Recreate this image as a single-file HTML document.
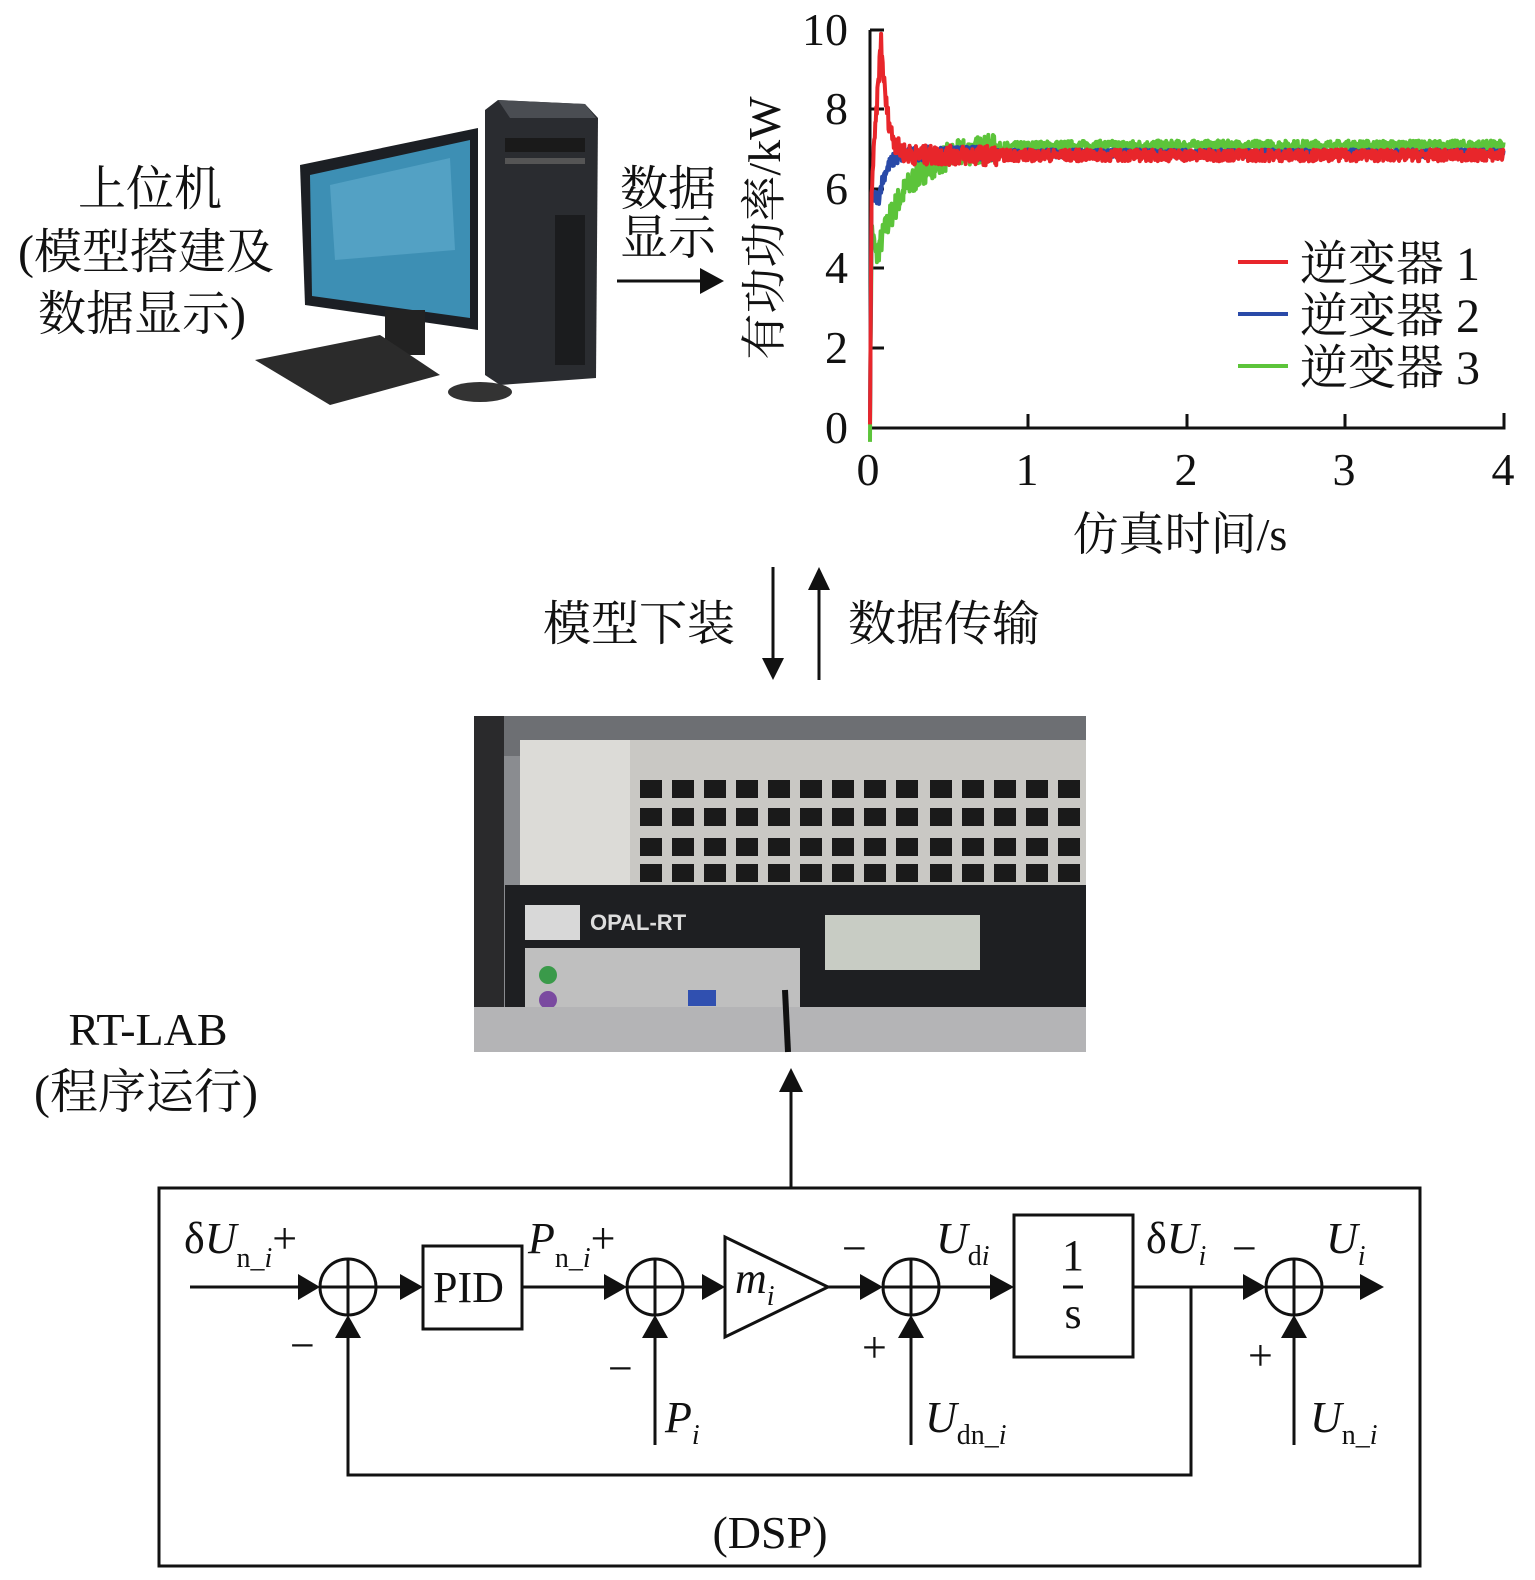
<!DOCTYPE html>
<html><head><meta charset="utf-8"><style>
html,body{margin:0;padding:0;background:#fff;overflow:hidden;width:1535px;height:1580px}
svg{display:block;position:absolute;left:0;top:0}
.t{font-family:"Liberation Serif","Noto Serif CJK SC",serif;fill:#111}
</style></head><body>
<svg id="s" width="1535" height="1580" viewBox="0 0 1535 1580" xmlns="http://www.w3.org/2000/svg">
<g class="t" font-size="48" text-anchor="middle">
<text x="150" y="205">上位机</text>
<text x="146" y="268">(模型搭建及</text>
<text x="142" y="330">数据显示)</text>
<text x="148" y="1045" font-size="46">RT-LAB</text>
<text x="146" y="1108">(程序运行)</text>
<text x="770" y="1548" font-size="46">(DSP)</text>
</g>
<g>
<polygon points="485,110 498,100 585,104 598,118 596,378 500,385 485,375" fill="#2a2c30"/>
<polygon points="498,100 585,104 596,118 510,118" fill="#4a4d52"/>
<rect x="505" y="138" width="80" height="14" fill="#1a1a1a"/>
<rect x="505" y="158" width="80" height="6" fill="#555"/>
<rect x="555" y="215" width="30" height="150" fill="#1b1c1e"/>
<polygon points="300,165 478,128 478,330 305,305" fill="#1c1f24"/>
<polygon points="310,175 470,140 470,318 312,296" fill="#3d8fb4"/>
<polygon points="330,185 450,158 455,250 335,260" fill="#62aece" opacity="0.6"/>
<rect x="385" y="310" width="40" height="45" fill="#222"/>
<polygon points="255,360 380,335 440,375 330,405" fill="#2b2b2b"/>
<ellipse cx="480" cy="392" rx="32" ry="10" fill="#333"/>
</g>
<g class="t" font-size="48">
<text x="620" y="205">数据</text>
<text x="620" y="254">显示</text>
</g>
<line x1="617" y1="281" x2="702" y2="281" stroke="#111" stroke-width="3"/>
<polygon points="700,268 724,281 700,294" fill="#111"/>
<text class="t" font-size="46" transform="translate(780,228) rotate(-90)" text-anchor="middle">有功功率/kW</text>
<g stroke="#111" stroke-width="3" fill="none">
<polyline points="870,30 870,428 1504,428 1504,413"/>
<line x1="870" y1="30" x2="884" y2="30"/>
<line x1="870" y1="109" x2="884" y2="109"/>
<line x1="870" y1="189" x2="884" y2="189"/>
<line x1="870" y1="268" x2="884" y2="268"/>
<line x1="870" y1="348" x2="884" y2="348"/>
<line x1="1028" y1="428" x2="1028" y2="414"/>
<line x1="1187" y1="428" x2="1187" y2="414"/>
<line x1="1345" y1="428" x2="1345" y2="414"/>
</g>
<g class="t" font-size="46" text-anchor="end">
<text x="848" y="45">10</text>
<text x="848" y="124">8</text>
<text x="848" y="204">6</text>
<text x="848" y="283">4</text>
<text x="848" y="363">2</text>
<text x="848" y="443">0</text>
</g>
<g class="t" font-size="46" text-anchor="middle">
<text x="868" y="485">0</text>
<text x="1027" y="485">1</text>
<text x="1186" y="485">2</text>
<text x="1344" y="485">3</text>
<text x="1503" y="485">4</text>
<text x="1180" y="550">仿真时间/s</text>
</g>
<g id="curves" fill="none" stroke-width="4" stroke-linejoin="round"></g>
<line x1="1238" y1="262" x2="1288" y2="262" stroke="#e8262b" stroke-width="4"/>
<line x1="1238" y1="314" x2="1288" y2="314" stroke="#2a4aa8" stroke-width="4"/>
<line x1="1238" y1="366" x2="1288" y2="366" stroke="#5cc43a" stroke-width="4"/>
<g class="t" font-size="48">
<text x="1300" y="280">逆变器 1</text>
<text x="1300" y="332">逆变器 2</text>
<text x="1300" y="384">逆变器 3</text>
</g>
<g class="t" font-size="48">
<text x="735" y="640" text-anchor="end">模型下装</text>
<text x="848" y="640">数据传输</text>
</g>
<line x1="773" y1="567" x2="773" y2="660" stroke="#111" stroke-width="3"/>
<polygon points="762,658 773,680 784,658" fill="#111"/>
<line x1="819" y1="680" x2="819" y2="588" stroke="#111" stroke-width="3"/>
<polygon points="808,590 819,567 830,590" fill="#111"/>
<g>
<rect x="474" y="716" width="612" height="336" fill="#8a8c90"/>
<rect x="474" y="716" width="612" height="40" fill="#6d6f73"/>
<rect x="474" y="716" width="30" height="336" fill="#2a2a2c"/>
<rect x="520" y="740" width="566" height="150" fill="#c9c8c4"/>
<rect x="520" y="740" width="110" height="150" fill="#dcdbd7"/>
<g id="ports" fill="#1a1a1a"></g>
<rect x="505" y="885" width="581" height="122" fill="#1e1f22"/>
<rect x="525" y="905" width="55" height="35" fill="#d8d8d8"/>
<text x="590" y="930" font-family="Liberation Sans,sans-serif" font-size="22" font-weight="bold" fill="#ddd">OPAL-RT</text>
<rect x="525" y="948" width="275" height="60" fill="#bfbfbf"/>
<circle cx="548" cy="975" r="9" fill="#3a9a4a"/>
<circle cx="548" cy="1000" r="9" fill="#7a4aa0"/>
<rect x="688" y="990" width="28" height="16" fill="#3050b0"/>
<rect x="825" y="915" width="155" height="55" fill="#c8ccc4"/>
<rect x="474" y="1007" width="612" height="45" fill="#b4b4b6"/>
<line x1="785" y1="990" x2="788" y2="1052" stroke="#111" stroke-width="6"/>
</g>
<line x1="791" y1="1188" x2="791" y2="1090" stroke="#111" stroke-width="3"/>
<polygon points="779,1092 791,1068 803,1092" fill="#111"/>
<g stroke="#111" stroke-width="3" fill="none">
<rect x="159" y="1188" width="1261" height="378"/>
<line x1="190" y1="1287" x2="300" y2="1287"/>
<circle cx="348" cy="1287" r="28"/><line x1="320" y1="1287" x2="376" y2="1287"/><line x1="348" y1="1259" x2="348" y2="1315"/>
<line x1="376" y1="1287" x2="402" y2="1287"/>
<rect x="423" y="1246" width="99" height="83"/>
<line x1="522" y1="1287" x2="606" y2="1287"/>
<circle cx="655" cy="1287" r="28"/><line x1="627" y1="1287" x2="683" y2="1287"/><line x1="655" y1="1259" x2="655" y2="1315"/>
<line x1="683" y1="1287" x2="703" y2="1287"/>
<polygon points="725,1237 828,1287 725,1337"/>
<line x1="828" y1="1287" x2="862" y2="1287"/>
<circle cx="911" cy="1287" r="28"/><line x1="883" y1="1287" x2="939" y2="1287"/><line x1="911" y1="1259" x2="911" y2="1315"/>
<line x1="939" y1="1287" x2="992" y2="1287"/>
<rect x="1014" y="1215" width="119" height="142"/>
<line x1="1133" y1="1287" x2="1245" y2="1287"/>
<circle cx="1294" cy="1287" r="28"/><line x1="1266" y1="1287" x2="1322" y2="1287"/><line x1="1294" y1="1259" x2="1294" y2="1315"/>
<line x1="1322" y1="1287" x2="1362" y2="1287"/>
<polyline points="1191,1287 1191,1475 348,1475 348,1337"/>
<line x1="655" y1="1445" x2="655" y2="1337"/>
<line x1="911" y1="1445" x2="911" y2="1337"/>
<line x1="1294" y1="1445" x2="1294" y2="1337"/>
<line x1="1063" y1="1287" x2="1083" y2="1287"/>
</g>
<g fill="#111">
<polygon points="298,1274 320,1287 298,1300"/>
<polygon points="400,1274 423,1287 400,1300"/>
<polygon points="604,1274 627,1287 604,1300"/>
<polygon points="702,1274 725,1287 702,1300"/>
<polygon points="860,1274 883,1287 860,1300"/>
<polygon points="990,1274 1014,1287 990,1300"/>
<polygon points="1243,1274 1266,1287 1243,1300"/>
<polygon points="1360,1274 1384,1287 1360,1300"/>
<polygon points="335,1338 348,1315 361,1338"/>
<polygon points="642,1338 655,1315 668,1338"/>
<polygon points="898,1338 911,1315 924,1338"/>
<polygon points="1281,1338 1294,1315 1307,1338"/>
</g>
<g class="t" font-size="44">
<text x="184" y="1253"><tspan>δ</tspan><tspan font-style="italic">U</tspan><tspan font-size="28" dy="14">n_</tspan><tspan font-size="28" font-style="italic">i</tspan><tspan dy="-14">+</tspan></text>
<text x="290" y="1360">−</text>
<text x="433" y="1302">PID</text>
<text x="528" y="1253"><tspan font-style="italic">P</tspan><tspan font-size="28" dy="14">n_</tspan><tspan font-size="28" font-style="italic">i</tspan><tspan dy="-14">+</tspan></text>
<text x="608" y="1383">−</text>
<text x="665" y="1432"><tspan font-style="italic">P</tspan><tspan font-size="28" font-style="italic" dy="12">i</tspan></text>
<text x="735" y="1293"><tspan font-style="italic">m</tspan><tspan font-size="28" font-style="italic" dy="12">i</tspan></text>
<text x="842" y="1263">−</text>
<text x="936" y="1253"><tspan font-style="italic">U</tspan><tspan font-size="28" dy="12">d</tspan><tspan font-size="28" font-style="italic">i</tspan></text>
<text x="862" y="1362">+</text>
<text x="925" y="1432"><tspan font-style="italic">U</tspan><tspan font-size="28" dy="12">dn_</tspan><tspan font-size="28" font-style="italic">i</tspan></text>
<text x="1073" y="1270" text-anchor="middle">1</text>
<text x="1073" y="1328" text-anchor="middle">s</text>
<text x="1146" y="1253"><tspan>δ</tspan><tspan font-style="italic">U</tspan><tspan font-size="28" font-style="italic" dy="12">i</tspan></text>
<text x="1232" y="1263">−</text>
<text x="1326" y="1253"><tspan font-style="italic">U</tspan><tspan font-size="28" font-style="italic" dy="12">i</tspan></text>
<text x="1248" y="1370">+</text>
<text x="1310" y="1432"><tspan font-style="italic">U</tspan><tspan font-size="28" dy="12">n_</tspan><tspan font-size="28" font-style="italic">i</tspan></text>
</g>
</svg>
<script>
(function(){
var NS="http://www.w3.org/2000/svg";
var seed=7;function r(){seed=(seed*16807)%2147483647;return seed/2147483647-0.5;}
function X(t){return 870+t*158.4;}function Y(p){return 428-p*39.8;}
function curve(color,f,amp){var pts=[];for(var i=0;i<=1200;i++){var t=i/300;var v=f(t)+r()*amp(t);pts.push(X(t).toFixed(1)+","+Y(v).toFixed(1));}
var pl=document.createElementNS(NS,"polyline");pl.setAttribute("points",pts.join(" "));pl.setAttribute("stroke",color);document.getElementById("curves").appendChild(pl);}
curve("#5cc43a",function(t){if(t<0.01)return t*500;if(t<0.04)return 5-(t-0.01)*25;return 7.1-2.8*Math.exp(-(t-0.04)*5);},function(t){return t<0.8?0.7:0.25;});
curve("#2a4aa8",function(t){if(t<0.01)return t*580;if(t<0.06)return 5.8;return 6.9-1*Math.exp(-(t-0.06)*20);},function(t){return t<0.8?0.35:0.2;});
curve("#e8262b",function(t){if(t<0.01)return t*600;if(t<0.07)return 6+(t-0.01)*63;return 6.85+2.9*Math.exp(-(t-0.07)*25);},function(t){return t<0.8?0.5:0.3;});
var g=document.getElementById("ports");
var cols=[640,672,704,736,768,800,832,864,896,930,962,994,1026,1058];
[790,818,848,874].forEach(function(y){cols.forEach(function(x){var e=document.createElementNS(NS,"rect");e.setAttribute("x",x);e.setAttribute("y",y-10);e.setAttribute("width",22);e.setAttribute("height",18);g.appendChild(e);});});
})();
</script>
</body></html>
